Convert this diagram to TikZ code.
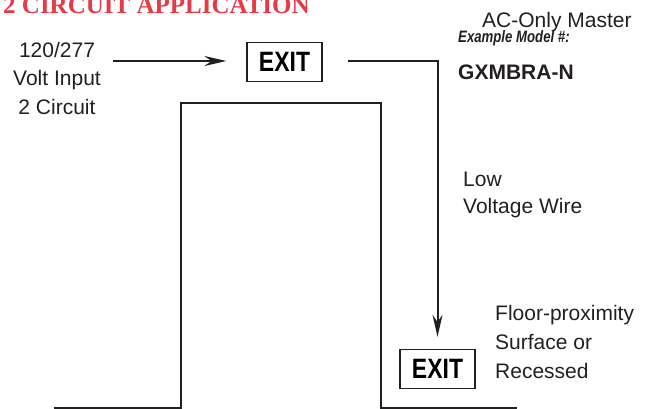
\documentclass[tikz,border=0pt]{standalone}
\usepackage{fontspec}
\setmainfont{Liberation Sans}
\newfontfamily\titlefont{Liberation Serif}
\newfontfamily\exitfont[FakeStretch=0.82]{Liberation Sans}
\newfontfamily\modelfont[FakeStretch=0.8]{Liberation Sans}
\usetikzlibrary{arrows.meta, positioning}
\definecolor{titlered}{RGB}{232,58,68}
\definecolor{inkgray}{RGB}{35,31,32}
\tikzset{
  wall/.style={line width=2.4pt,color=inkgray},
  wire/.style={line width=2pt,color=inkgray,-{Stealth[length=22pt,width=10pt]}},
  exitbox/.style={draw=inkgray,line width=1.3pt,minimum width=75pt,minimum height=39pt,
                  inner sep=0pt,font=\exitfont\bfseries\fontsize{28}{28}\selectfont},
  lbl/.style={font=\fontsize{21}{29}\selectfont,text=inkgray,inner sep=0pt},
}

\begin{document}
\begin{tikzpicture}[x=1pt,y=-1pt]
  \useasboundingbox (0,0) rectangle (650,409);
  % title
  \node[anchor=base west,inner sep=0pt,text=titlered,
        font=\titlefont\bfseries\fontsize{25}{25}\selectfont] (title) at (3,13.5) {2 CIRCUIT APPLICATION};
  % labels (base = last line)
  \node[lbl,align=center,anchor=base] (input) at (57,115) {120/277\\Volt Input\\2 Circuit};
  \node[lbl,anchor=base west] (master) at (482,28) {AC-Only Master};
  \node[anchor=base west,inner sep=0pt,text=inkgray,
        font=\modelfont\bfseries\itshape\fontsize{16.5}{16.5}\selectfont] (model) at (458,43) {Example Model \#:};
  \node[lbl,anchor=base west,font=\bfseries\fontsize{21}{21}\selectfont] (modelno) at (458,80) {GXMBRA-N};
  \node[lbl,align=left,anchor=base west,font=\fontsize{21}{27}\selectfont] (lowv) at (463,213) {Low\\Voltage Wire};
  \node[lbl,align=left,anchor=base west] (floor) at (495,378) {Floor-proximity\\Surface or\\Recessed};
  % exit signs
  \node[exitbox] (exitup) at (284.5,62) {EXIT};
  \node[exitbox] (exitdn) at (437.5,369) {EXIT};
  % walls
  \draw[wall] (54,408) -- (181,408) -- (181,103) -- (381,103) -- (381,408) -- (517,408);
  % wiring
  \coordinate (inA) at (113,61);
  \coordinate (wireA) at (348,61);
  \draw[wire] (inA) -- ([xshift=-20pt]exitup.west |- inA);
  \draw[wire] (wireA) -| ([yshift=12pt]exitdn.north);
\end{tikzpicture}
\end{document}
